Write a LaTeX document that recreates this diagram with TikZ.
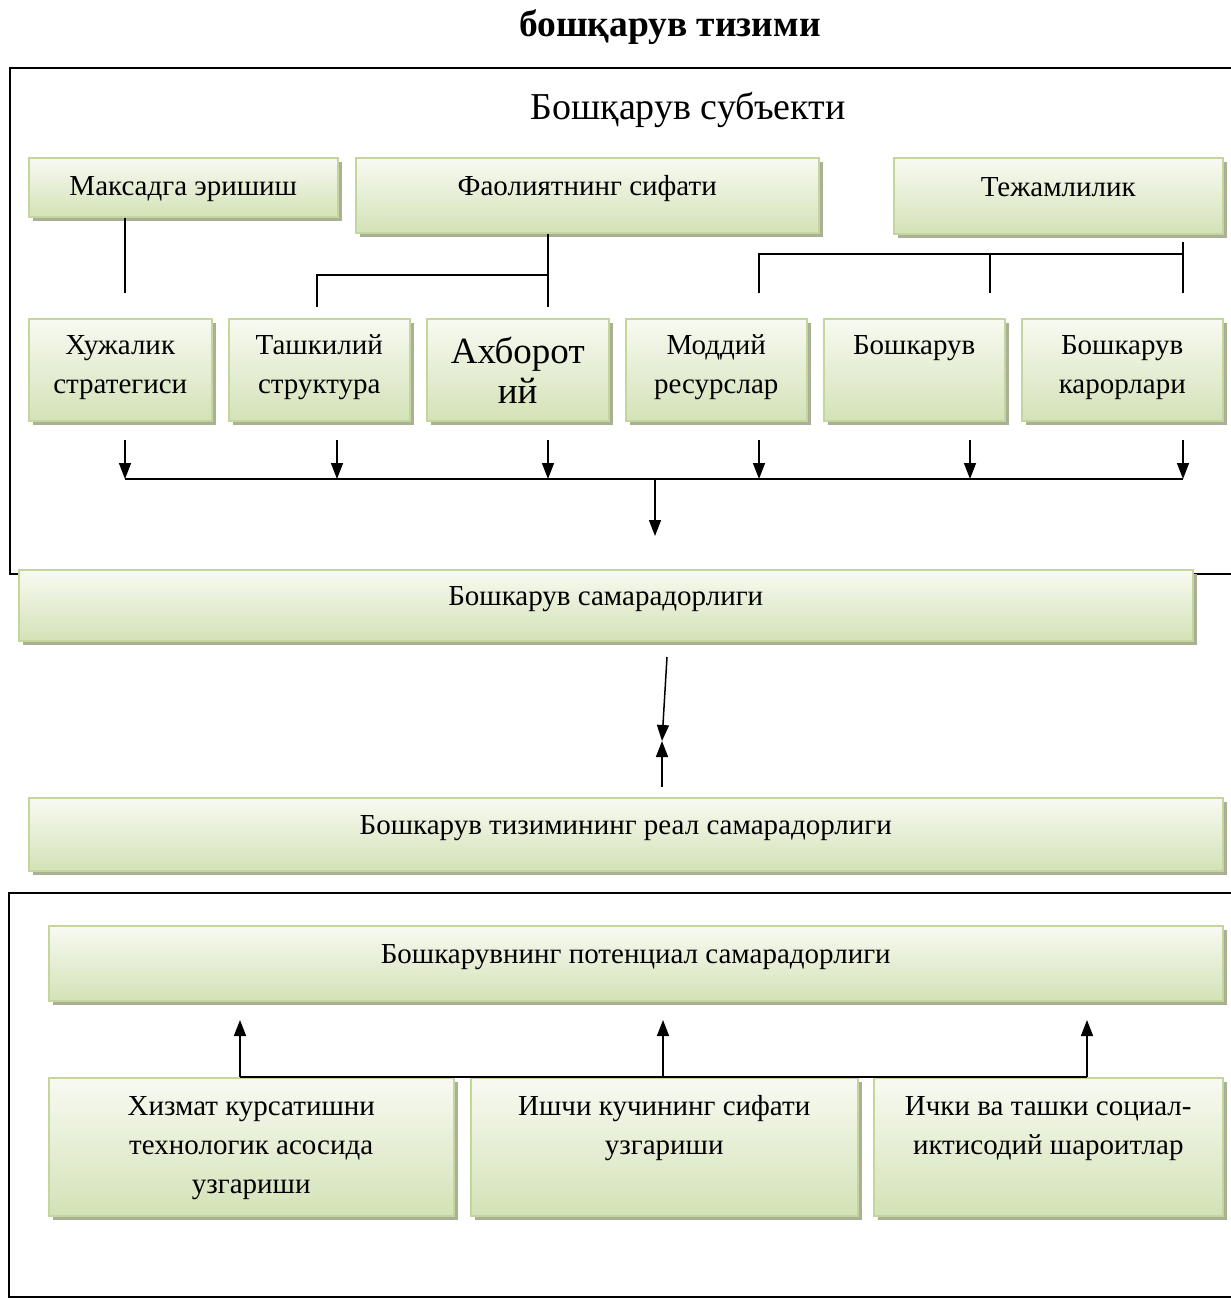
\documentclass[tikz,border=0pt]{standalone}
\usepackage{fontspec}
\setmainfont{Liberation Serif}
\usepackage{xcolor}
\usetikzlibrary{arrows.meta, shadows}

\definecolor{boxline}{HTML}{C3D69B}
\definecolor{boxtop}{HTML}{F8FAF2}
\definecolor{boxbot}{HTML}{D3E2B7}
\definecolor{boxshadow}{HTML}{A9B096}

\begin{document}
\begin{tikzpicture}[x=1pt, y=-1pt,
    gbox/.style={draw=boxline, line width=1.5pt, top color=boxtop, bottom color=boxbot, anchor=north west, inner sep=0pt, align=flush center, font=\fontsize{29}{39}\selectfont, drop shadow={shadow xshift=4pt, shadow yshift=-4pt, fill=boxshadow, opacity=1}},
    line/.style={line width=1.5pt},
    arrow/.style={-{Triangle[length=16pt,width=12pt]}, line width=1.5pt}
]
\useasboundingbox (0,0) rectangle (1231,1299);

% frames
\draw[line] (1231,68) -| (10,574) -- (1231,574);
\draw[line] (1231,893) -| (9,1297) -- (1231,1297);

\node[font=\bfseries\fontsize{37.5}{42}\selectfont] (title) at (670,27) {бошқарув тизими};
\node[font=\fontsize{38}{44}\selectfont] (subj) at (688,110) {Бошқарув субъекти};

% top row
\node[gbox, text width=309pt, text height=38pt, text depth=21pt] (maks) at (28,157) {Максадга эришиш};
\node[gbox, text width=463pt, text height=38pt, text depth=37pt] (faol) at (355,157) {Фаолиятнинг сифати};
\node[gbox, text width=329pt, text height=39pt, text depth=37pt] (tezh) at (893,157) {Тежамлилик};

% middle row
\node[gbox, text width=183pt, text height=36pt, text depth=66pt] (huzh) at (28,318) {Хужалик\\стратегиси};
\node[gbox, text width=181pt, text height=36pt, text depth=66pt] (tash) at (228,318) {Ташкилий\\структура};
\node[gbox, text width=182pt, text height=45pt, text depth=57pt, font=\fontsize{37}{40}\selectfont] (ahb) at (426,318) {Ахборот\\ий};
\node[gbox, text width=181pt, text height=36pt, text depth=66pt] (modd) at (625,318) {Моддий\\ресурслар};
\node[gbox, text width=181pt, text height=36pt, text depth=66pt] (bosh) at (823,318) {Бошкарув};
\node[gbox, text width=201pt, text height=36pt, text depth=66pt] (kar) at (1021,318) {Бошкарув\\карорлари};

% wide boxes
\node[gbox, text width=1174pt, text height=36pt, text depth=35pt] (sam) at (18,569) {Бошкарув самарадорлиги};
\node[gbox, text width=1194pt, text height=37pt, text depth=36pt] (real) at (28,797) {Бошкарув тизимининг реал самарадорлиги};
\node[gbox, text width=1174pt, text height=38pt, text depth=37pt] (pot) at (48,925) {Бошкарувнинг потенциал самарадорлиги};

% bottom row
\node[gbox, text width=405pt, text height=38pt, text depth=100pt] (hizm) at (48,1077) {Хизмат курсатишни\\технологик асосида\\узгариши};
\node[gbox, text width=387pt, text height=38pt, text depth=100pt] (ishchi) at (470,1077) {Ишчи кучининг сифати\\узгариши};
\node[gbox, text width=349pt, text height=38pt, text depth=100pt] (ichki) at (873,1077) {Ички ва ташки социал-\\иктисодий шароитлар};

% upper connectors
\coordinate (t1) at (125,293);
\coordinate (t2) at (317,307);
\coordinate (t3) at (548,307);
\coordinate (t4) at (759,293);
\coordinate (t5) at (990,293);
\coordinate (t6) at (1183,293);
\draw[line] (maks.south -| t1) -- (t1);
\draw[line] (faol.south -| t3) -- (t3);
\draw[line] (t2) -- ++(0,-32) -| (t3);
\draw[line] (t4) -- ++(0,-39) -| (t6);
\draw[line] (t5) -- ++(0,-39);
\draw[line] (t6) -- ++(0,-51);

% arrows into the bus
\foreach \i/\xx in {1/125, 2/337, 3/548, 4/759, 5/970, 6/1183} {
  \coordinate (d\i) at (\xx,479);
  \draw[arrow] (\xx,440) -- (d\i);
}
\draw[line] (d1) -- (d6);
\coordinate (bus) at (655,479);
\draw[arrow] (bus) -- ++(0,57);

% between the effectiveness boxes
\coordinate (s1) at (667,657);
\coordinate (m) at (662,741);
\coordinate (r1) at (662,787);
\draw[arrow] (s1) -- (m);
\draw[arrow] (r1) -- (m);

% lower connectors
\foreach \i/\xx in {1/240, 2/663, 3/1087} {
  \coordinate (u\i) at (\xx,1077);
  \draw[arrow] (u\i) -- (\xx,1020);
}
\draw[line] (u1) -- (u3);

\end{tikzpicture}
\end{document}
